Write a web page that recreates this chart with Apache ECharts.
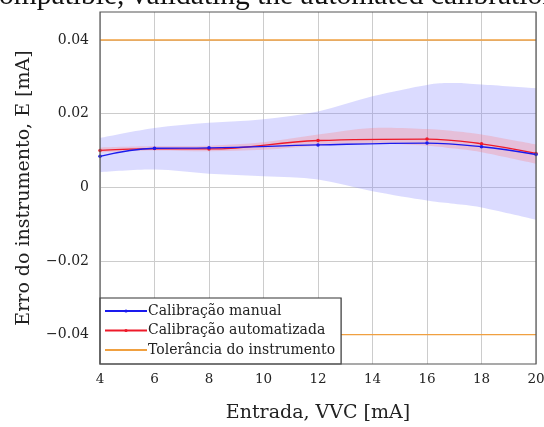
<!DOCTYPE html>
<html><head><meta charset="utf-8">
<script src="https://cdn.jsdelivr.net/npm/echarts@6/dist/echarts.min.js"></script>
<style>html,body{margin:0;padding:0;background:#fff}#c{width:544px;height:427px}</style>
</head><body><div id="c"></div>
<script>
// Data
const xPts = [4, 6, 8, 12, 16, 18, 20];
const manual = [0.0084, 0.0106, 0.0107, 0.0115, 0.0120, 0.0110, 0.0089];
const auto = [0.0100, 0.0105, 0.0104, 0.0127, 0.0131, 0.0118, 0.0092];
const bandX = [4, 6, 8, 10, 12, 14, 16, 17, 18, 20];
const manualHi = [0.0134, 0.0161, 0.0175, 0.0185, 0.0206, 0.0247, 0.0278, 0.0283, 0.0279, 0.0269];
const manualLo = [0.0041, 0.0048, 0.0037, 0.0030, 0.0021, -0.0011, -0.0036, -0.0045, -0.0055, -0.0088];
const autoHi = [0.0108, 0.0112, 0.0113, 0.0122, 0.0143, 0.0161, 0.0158, 0.0152, 0.0143, 0.0116];
const autoLo = [0.0095, 0.0100, 0.0098, 0.0102, 0.0113, 0.0118, 0.0113, 0.0105, 0.0095, 0.0064];
const tolerance = 0.04;
const xRange = [4, 20];
const yRange = [-0.048, 0.0476];
const yTicks = [-0.04, -0.02, 0, 0.02, 0.04];
const names = ['Calibração manual', 'Calibração automatizada', 'Tolerância do instrumento'];

const serif = '"DejaVu Serif", serif';
const tserif = '"Liberation Serif", serif';
const pair = (xs, ys) => xs.map((x, i) => [x, ys[i]]);
const fmt = v => { if (Math.abs(v) < 1e-9) return '0'; const s = Math.abs(v).toFixed(2); return (v < 0 ? '\u2212' : '') + s; };

// Catmull-Rom style smooth path through screen points
function smoothPath(p, start) {
  let d = (start ? 'M' : 'L') + p[0][0] + ',' + p[0][1];
  for (let i = 0; i < p.length - 1; i++) {
    const p0 = p[Math.max(i - 1, 0)], p1 = p[i], p2 = p[i + 1], p3 = p[Math.min(i + 2, p.length - 1)];
    const c1 = [p1[0] + (p2[0] - p0[0]) / 6, p1[1] + (p2[1] - p0[1]) / 6];
    const c2 = [p2[0] - (p3[0] - p1[0]) / 6, p2[1] - (p3[1] - p1[1]) / 6];
    d += 'C' + c1[0] + ',' + c1[1] + ' ' + c2[0] + ',' + c2[1] + ' ' + p2[0] + ',' + p2[1];
  }
  return d;
}

function bandSeries(lo, hi, fill, z) {
  return {
    type: 'custom', silent: true, z: z,
    data: bandX.map((x, i) => [x, lo[i], hi[i]]),
    encode: {x: 0, y: [1, 2]},
    renderItem: function (params, api) {
      if (params.dataIndex !== 0) return null;
      const up = bandX.map((x, i) => api.coord([x, hi[i]]));
      const dn = bandX.map((x, i) => api.coord([x, lo[i]])).reverse();
      const d = smoothPath(up, true) + smoothPath(dn, false) + 'Z';
      return {type: 'path', shape: {pathData: d}, style: {fill: fill}};
    }
  };
}

const chart = echarts.init(document.getElementById('c'), null, {renderer: 'canvas'});
chart.setOption({
  animation: false,
  backgroundColor: '#fff',
  graphic: [{
    type: 'text', left: -14, top: -19, silent: true,
    style: {text: 'compatible, validating the automated calibration', font: '29.5px ' + tserif, fill: '#111'}
  }],
  grid: {left: 100, right: 8, top: 12, bottom: 63, show: true, borderColor: '#555', borderWidth: 1.2,
    backgroundColor: 'transparent', z: 10, containLabel: false, outerBoundsMode: 'none'},
  legend: {
    data: [
      {name: names[0]},
      {name: names[1]},
      {name: names[2], itemStyle: {opacity: 0}}
    ],
    orient: 'vertical', left: 100, top: 298,
    backgroundColor: '#fff', borderColor: '#333', borderWidth: 1.2, borderRadius: 0,
    padding: [5, 6, 6, 4], itemGap: 3.5, itemWidth: 42, itemHeight: 4,
    textStyle: {fontFamily: serif, fontSize: 14, color: '#222', padding: [0, 0, 0, -4], lineHeight: 16}
  },
  xAxis: {
    type: 'value', min: xRange[0], max: xRange[1], interval: 2,
    name: 'Entrada, VVC [mA]', nameLocation: 'middle', nameGap: 40,
    nameTextStyle: {fontFamily: serif, fontSize: 19, color: '#222'},
    axisLine: {show: false}, axisTick: {show: false},
    axisLabel: {fontFamily: serif, fontSize: 13.5, color: '#222', margin: 8},
    splitLine: {show: true, lineStyle: {color: '#cccccc', width: 1}}
  },
  yAxis: {
    type: 'value', min: yRange[0], max: yRange[1],
    name: 'Erro do instrumento, E [mA]', nameLocation: 'middle', nameGap: 66,
    nameTextStyle: {fontFamily: serif, fontSize: 19, color: '#222'},
    axisLine: {show: false}, axisTick: {show: false},
    axisLabel: {fontFamily: serif, fontSize: 14, color: '#222', margin: 11,
      customValues: yTicks, formatter: v => fmt(v)},
    splitLine: {show: false}
  },
  series: [
    {type: 'line', name: 'grid', data: [], silent: true, symbol: 'none', z: 0,
     markLine: {silent: true, symbol: 'none', z: 0, label: {show: false}, animation: false,
       lineStyle: {color: '#cccccc', width: 1, type: 'solid'},
       emphasis: {disabled: true},
       data: yTicks.map(v => ({yAxis: v}))}},
    bandSeries(manualLo, manualHi, 'rgba(125,125,255,0.28)', 1),
    bandSeries(autoLo, autoHi, 'rgba(255,120,120,0.28)', 2),
    {type: 'line', name: names[2], data: [[xRange[0], tolerance], [xRange[1], tolerance]], symbol: 'none',
     color: '#f0a040', lineStyle: {color: '#f0a040', width: 1.3}, z: 3},
    {type: 'line', name: names[2], data: [[xRange[0], -tolerance], [xRange[1], -tolerance]], symbol: 'none',
     color: '#f0a040', lineStyle: {color: '#f0a040', width: 1.3}, z: 3},
    {type: 'line', name: names[0], data: pair(xPts, manual), smooth: 0.4, symbol: 'circle', symbolSize: 3.5,
     color: '#1a1aee', lineStyle: {color: '#1a1aee', width: 1.3}, itemStyle: {color: '#1a1aee'}, z: 5},
    {type: 'line', name: names[1], data: pair(xPts, auto), smooth: 0.4, symbol: 'circle', symbolSize: 3.5,
     color: '#ee1a2a', lineStyle: {color: '#ee1a2a', width: 1.3}, itemStyle: {color: '#ee1a2a'}, z: 4}
  ]
});
</script></body></html>
